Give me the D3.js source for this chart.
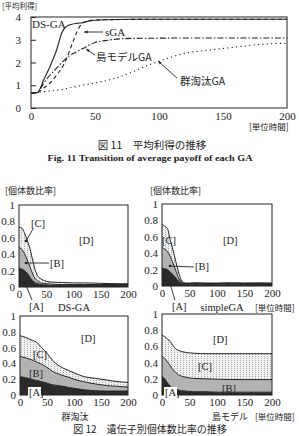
<!DOCTYPE html>
<html><head><meta charset="utf-8">
<script src="https://cdn.jsdelivr.net/npm/d3@7"></script>
<style>
body{margin:0;background:#fff;}
svg{display:block;}
text{font-family:"Liberation Serif","DejaVu Serif",serif;fill:#222;}
.jp{font-family:"Noto Sans CJK JP","Noto Sans",sans-serif;}
</style></head>
<body>
<svg id="c" width="299" height="436"></svg>
<script>
// ---------- Figure 11 data: average payoff ----------
const xTicksTop = [0, 50, 100, 150, 200];
const yTicksTop = [0, 1, 2, 3, 4];
const dsTime   = [0,5,10,15,20,24,28,32,36,40,46,50,60,80,100,150,200];
const dsVal    = [0.65,0.68,1.25,1.85,2.55,3.3,3.6,3.68,3.72,3.75,3.83,3.86,3.88,3.9,3.9,3.9,3.9];
const sgaTime  = [0,5,10,15,20,25,28,32,36,40,45,50,60,100,150,200];
const sgaVal   = [0.65,0.68,0.88,1.1,1.45,1.85,2.2,2.8,3.35,3.72,3.83,3.87,3.88,3.9,3.9,3.9];
const islTime  = [0,5,10,15,20,25,30,35,40,50,60,70,80,100,150,200];
const islVal   = [0.65,0.68,1.1,1.45,1.75,2.05,2.3,2.45,2.6,2.88,2.98,3.04,3.06,3.07,3.08,3.08];
const grpTime  = [0,5,10,20,30,40,50,60,70,80,90,100,120,140,160,180,200];
const grpVal   = [0.65,0.68,0.72,0.78,0.88,1.0,1.1,1.22,1.38,1.6,1.85,2.05,2.4,2.55,2.68,2.8,2.85];

// ---------- Figure 12 data: share of individuals per gene type ----------
const xTicksPanel = [0, 50, 100, 150, 200];
const yTicksPanel = [0, 0.2, 0.4, 0.6, 0.8, 1];
const categories = ["A", "B", "C"];

const dsgaT = [0,5,10,15,20,25,30,35,40,50,60,80,100,120,150,180,200];
const dsgaA = [0.23,0.22,0.2,0.17,0.12,0.08,0.05,0.04,0.03,0.025,0.02,0.02,0.02,0.02,0.02,0.02,0.02];
const dsgaB = [0.26,0.24,0.21,0.16,0.13,0.08,0.05,0.03,0.02,0.015,0.015,0.01,0.01,0.01,0.01,0.01,0.01];
const dsgaC = [0.24,0.26,0.25,0.24,0.22,0.17,0.1,0.06,0.05,0.03,0.025,0.025,0.02,0.02,0.015,0.01,0.01];

const sgaT2 = [0,5,10,15,20,25,30,35,40,45,50,60,80,100,120,150,180,200];
const sgaA  = [0.22,0.21,0.2,0.17,0.14,0.1,0.06,0.04,0.025,0.02,0.02,0.025,0.02,0.02,0.025,0.02,0.02,0.02];
const sgaB  = [0.25,0.24,0.22,0.19,0.14,0.09,0.04,0.012,0.006,0.01,0.01,0.008,0.01,0.01,0.008,0.01,0.012,0.01];
const sgaC  = [0.28,0.28,0.28,0.2,0.16,0.11,0.07,0.02,0.01,0.006,0.006,0.006,0.007,0.006,0.006,0.007,0.006,0.006];

const grpT2 = [0,10,20,30,40,50,60,70,80,90,100,120,140,160,180,200];
const grpA  = [0.23,0.22,0.2,0.185,0.17,0.15,0.13,0.12,0.11,0.095,0.085,0.065,0.055,0.05,0.05,0.05];
const grpB  = [0.26,0.25,0.25,0.235,0.22,0.2,0.17,0.15,0.135,0.13,0.115,0.1,0.085,0.07,0.06,0.05];
const grpC  = [0.26,0.26,0.25,0.25,0.21,0.18,0.14,0.11,0.095,0.085,0.08,0.065,0.07,0.07,0.06,0.06];

const islT2 = [0,5,10,15,20,25,30,40,50,60,80,100,150,200];
const islA  = [0.23,0.2,0.15,0.11,0.08,0.065,0.055,0.05,0.045,0.04,0.04,0.035,0.035,0.035];
const islB  = [0.25,0.25,0.26,0.25,0.23,0.215,0.195,0.175,0.165,0.165,0.16,0.16,0.155,0.155];
const islC  = [0.26,0.27,0.28,0.3,0.3,0.29,0.3,0.305,0.31,0.31,0.31,0.315,0.32,0.32];

const svg = d3.select("#c");
const defs = svg.append("defs");
const pat = defs.append("pattern").attr("id","dots").attr("patternUnits","userSpaceOnUse")
  .attr("width",3).attr("height",2);
pat.append("rect").attr("width",3).attr("height",2).attr("fill","#f1f1f1");
pat.append("rect").attr("x",0).attr("y",0).attr("width",1).attr("height",1).attr("fill","#a8a8a8");

// ================= Top chart =================
const xT = d3.scaleLinear().domain([0,200]).range([31,287]);
const yT = d3.scaleLinear().domain([0,4]).range([108,17]);
const gT = svg.append("g");
gT.append("rect").attr("x",31).attr("y",17).attr("width",256).attr("height",91)
  .attr("fill","none").attr("stroke","#222").attr("stroke-width",1);
gT.append("g").attr("transform","translate(0,108)")
  .call(d3.axisBottom(xT).tickValues(xTicksTop).tickSize(0).tickPadding(4))
  .call(g=>{g.select(".domain").remove(); g.selectAll("text").attr("font-size",11).attr("font-family","Liberation Serif");});
gT.append("g").attr("transform","translate(31,0)")
  .call(d3.axisLeft(yT).tickValues(yTicksTop).tickSize(-5).tickPadding(10).tickFormat(d3.format("d")))
  .call(g=>{g.select(".domain").remove(); g.selectAll("line").attr("stroke","#222");
    g.selectAll("text").attr("font-size",11).attr("font-family","Liberation Serif");});

const lineGen = d3.line().curve(d3.curveMonotoneX).x(d=>xT(d[0])).y(d=>yT(d[1]));
function drawSeries(ts, vs, dash, w){
  gT.append("path").attr("d", lineGen(ts.map((t,i)=>[t,vs[i]])))
    .attr("fill","none").attr("stroke","#222").attr("stroke-width",w)
    .attr("stroke-dasharray",dash);
}
drawSeries(grpTime, grpVal, "1.2,3.2", 1.1);
drawSeries(islTime, islVal, "6,2,1.5,2", 1.1);
drawSeries(sgaTime, sgaVal, "4,3", 1.1);
drawSeries(dsTime, dsVal, null, 1.1);

svg.append("text").attr("class","jp").attr("x",2).attr("y",8.5).attr("font-size",7.5).text("[平均利得]");
svg.append("text").attr("class","jp").attr("x",249).attr("y",130).attr("font-size",8.5).text("[単位時間]");

// series labels
const lab = svg.append("g");
lab.append("text").attr("x",32).attr("y",28).attr("font-size",11).text("DS-GA");
lab.append("text").attr("x",105).attr("y",36).attr("font-size",11).text("sGA");
lab.append("text").attr("class","jp").attr("x",96).attr("y",61).attr("font-size",10.5).text("島モデルGA");
lab.append("text").attr("class","jp").attr("x",180).attr("y",85).attr("font-size",10.5).text("群淘汰GA");
function arrow(x1,y1,x2,y2){
  lab.append("line").attr("x1",x1).attr("y1",y1).attr("x2",x2).attr("y2",y2)
    .attr("stroke","#222").attr("stroke-width",0.9);
  const a = Math.atan2(y2-y1,x2-x1), L=4;
  const p = [[x2,y2],[x2-L*Math.cos(a-0.4),y2-L*Math.sin(a-0.4)],[x2-L*Math.cos(a+0.4),y2-L*Math.sin(a+0.4)]];
  lab.append("path").attr("d","M"+p.map(q=>q.join(",")).join("L")+"Z").attr("fill","#222");
}
arrow(103,32,84,32);
arrow(95,55,86,49);
arrow(177,78,158,61);

svg.append("text").attr("class","jp").attr("x",152).attr("y",149).attr("text-anchor","middle")
  .attr("font-size",10.5).text("図 11　平均利得の推移");
svg.append("text").attr("x",150).attr("y",161).attr("text-anchor","middle")
  .attr("font-size",8).attr("font-family","Liberation Sans Narrow, Liberation Sans, sans-serif")
  .attr("font-weight","bold").attr("textLength",205).attr("lengthAdjust","spacingAndGlyphs")
  .text("Fig. 11  Transition of average payoff of each GA");

// ================= Panels =================
const fills = {A:"#2b2b2b", B:"#b3b3b3", C:"url(#dots)"};
function panel(x0,x1,y0,y1,ts,A,B,C,labels){
  const x = d3.scaleLinear().domain([0,200]).range([x0,x1]);
  const y = d3.scaleLinear().domain([0,1]).range([y0,y1]);
  const g = svg.append("g");
  const rows = ts.map((t,i)=>({t, A:A[i], B:B[i], C:C[i]}));
  const stack = d3.stack().keys(categories)(rows);
  const area = d3.area().curve(d3.curveMonotoneX).x(d=>x(d.data.t)).y0(d=>y(d[0])).y1(d=>y(d[1]));
  const top = d3.line().curve(d3.curveMonotoneX).x(d=>x(d.data.t)).y(d=>y(d[1]));
  stack.forEach(s=>{
    g.append("path").attr("d",area(s)).attr("fill",fills[s.key]);
  });
  stack.forEach(s=>{
    g.append("path").attr("d",top(s)).attr("fill","none").attr("stroke","#222").attr("stroke-width",1);
  });
  g.append("rect").attr("x",x0).attr("y",y1).attr("width",x1-x0).attr("height",y0-y1)
    .attr("fill","none").attr("stroke","#222").attr("stroke-width",1);
  g.append("g").attr("transform",`translate(0,${y0})`)
    .call(d3.axisBottom(x).tickValues(xTicksPanel).tickSize(0).tickPadding(3))
    .call(a=>{a.select(".domain").remove(); a.selectAll("text").attr("font-size",11).attr("font-family","Liberation Serif");});
  g.append("g").attr("transform",`translate(${x0},0)`)
    .call(d3.axisLeft(y).tickValues(yTicksPanel).tickSize(0).tickPadding(4).tickFormat(d3.format("~g")))
    .call(a=>{a.select(".domain").remove(); a.selectAll("text").attr("font-size",11).attr("font-family","Liberation Serif");});
  labels.forEach(l=>{
    if(l.bg){
      g.append("rect").attr("x",l.x-1).attr("y",l.y-9).attr("width",13).attr("height",11).attr("fill","#fff");
    }
    g.append("text").attr("x",l.x).attr("y",l.y).attr("font-size",10.5).text(l.t);
  });
  return g;
}
function line(g,x1,y1,x2,y2){
  g.append("line").attr("x1",x1).attr("y1",y1).attr("x2",x2).attr("y2",y2).attr("stroke","#222").attr("stroke-width",0.9);
  g.append("circle").attr("cx",x2).attr("cy",y2).attr("r",1.3).attr("fill","#222");
}

const p1 = panel(19,128,287,205,dsgaT,dsgaA,dsgaB,dsgaC,
  [{t:"[C]",x:31,y:227},{t:"[D]",x:79,y:244},{t:"[B]",x:50,y:267}]);
line(p1,33,229,26,241);
line(p1,49,263,26,263);
line(p1,32,300,25,283);

const p2 = panel(162,272,286,204,sgaT2,sgaA,sgaB,sgaC,
  [{t:"[C]",x:162,y:244},{t:"[D]",x:223,y:244},{t:"[B]",x:195,y:270}]);
line(p2,194,267,170,266);
line(p2,175,300,170,284);

const p3 = panel(20,128,395,316,grpT2,grpA,grpB,grpC,
  [{t:"[D]",x:81,y:342},{t:"[C]",x:33,y:358},{t:"[B]",x:29,y:377},{t:"[A]",x:29,y:396,bg:true}]);

const p4 = panel(162,272,395,314,islT2,islA,islB,islC,
  [{t:"[D]",x:213,y:343},{t:"[C]",x:198,y:370},{t:"[B]",x:222,y:392,bg:false},{t:"[A]",x:165,y:396,bg:true}]);

svg.append("text").attr("class","jp").attr("x",5).attr("y",194).attr("font-size",9).text("[個体数比率]");
svg.append("text").attr("class","jp").attr("x",150).attr("y",194).attr("font-size",9).text("[個体数比率]");
svg.append("text").attr("x",29).attr("y",310).attr("font-size",10.5).text("[A]");
svg.append("text").attr("x",74).attr("y",311).attr("text-anchor","middle").attr("font-size",10.5).text("DS-GA");
svg.append("text").attr("x",172).attr("y",310).attr("font-size",10.5).text("[A]");
svg.append("text").attr("x",222).attr("y",311).attr("text-anchor","middle").attr("font-size",10.5).text("simpleGA");
svg.append("text").attr("class","jp").attr("x",255).attr("y",311).attr("font-size",8.5).text("[単位時間]");
svg.append("text").attr("class","jp").attr("x",75).attr("y",420).attr("text-anchor","middle").attr("font-size",9).text("群淘汰");
svg.append("text").attr("class","jp").attr("x",230).attr("y",420).attr("text-anchor","middle").attr("font-size",9).text("島モデル");
svg.append("text").attr("class","jp").attr("x",255).attr("y",420).attr("font-size",8.5).text("[単位時間]");
svg.append("text").attr("class","jp").attr("x",150).attr("y",433).attr("text-anchor","middle")
  .attr("font-size",10).text("図 12　遺伝子別個体数比率の推移");
</script>
</body></html>
